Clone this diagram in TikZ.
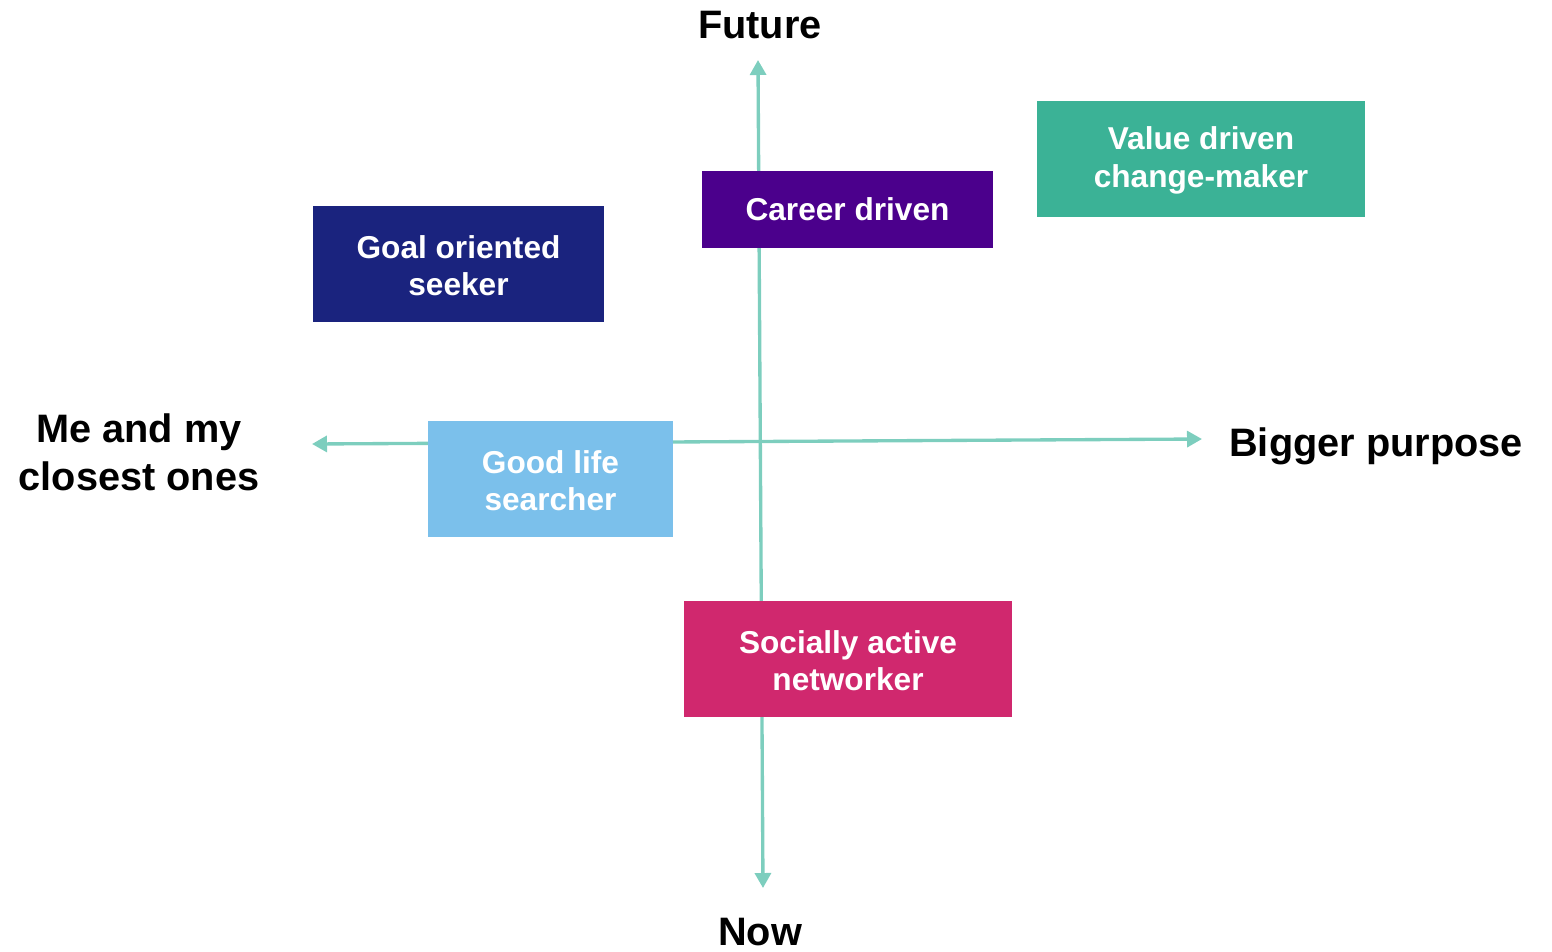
\documentclass[tikz,border=0pt]{standalone}
\usepackage{fontspec}
\setmainfont{Liberation Sans}
\usetikzlibrary{arrows.meta}

\definecolor{axisgreen}{RGB}{125,206,190}
\definecolor{careerpurple}{RGB}{75,0,140}
\definecolor{valuegreen}{RGB}{59,178,150}
\definecolor{goalnavy}{RGB}{26,35,126}
\definecolor{goodblue}{RGB}{123,192,235}
\definecolor{socialpink}{RGB}{208,40,110}

\tikzset{
	axis/.style = {axisgreen, line width=1.9pt, {Triangle[length=3mm, width=3.2mm]}-{Triangle[length=3mm, width=3.2mm]}},
	type/.style = {fill=#1, text=white, inner sep=0pt, align=center,
		font=\bfseries\fontsize{18}{21.5}\selectfont},
	pole/.style = {align=center, inner sep=1pt, font=\bfseries\fontsize{22.6}{27.2}\selectfont}
}

\begin{document}
\begin{tikzpicture}[x=0.02cm, y=-0.02cm]
	\useasboundingbox (0,0) rectangle (1552,951);

	% ends of the two axes
	\coordinate (future) at (758,60);
	\coordinate (now) at (763,888);
	\coordinate (me) at (312,444);
	\coordinate (bigger) at (1202,439);

	\draw [axis] (now) -- (future);
	\draw [axis] (me) -- (bigger);

	\node [pole, anchor=base] (futurelabel) at (760,38) {Future};
	\node [pole, anchor=base] (nowlabel) at (760,945) {Now};
	\node [pole] (melabel) at (139,452) {Me and my\\closest ones};
	\node [pole, anchor=base] (biggerlabel) at (1376,456) {Bigger purpose};

	\node [type=careerpurple, minimum width=5.82cm, minimum height=1.54cm] (career) at (847.5,209) {Career driven};
	\node [type=valuegreen, minimum width=6.56cm, minimum height=2.32cm] (value) at (1201,159) {\strut Value driven\\change-maker};
	\node [type=goalnavy, minimum width=5.82cm, minimum height=2.32cm] (goal) at (458.5,264) {\strut Goal oriented\\seeker};
	\node [type=goodblue, minimum width=4.9cm, minimum height=2.32cm] (goodlife) at (550.5,479) {\strut Good life\\searcher};
	\node [type=socialpink, minimum width=6.56cm, minimum height=2.32cm] (social) at (848,659) {\strut Socially active\\networker};
\end{tikzpicture}
\end{document}
